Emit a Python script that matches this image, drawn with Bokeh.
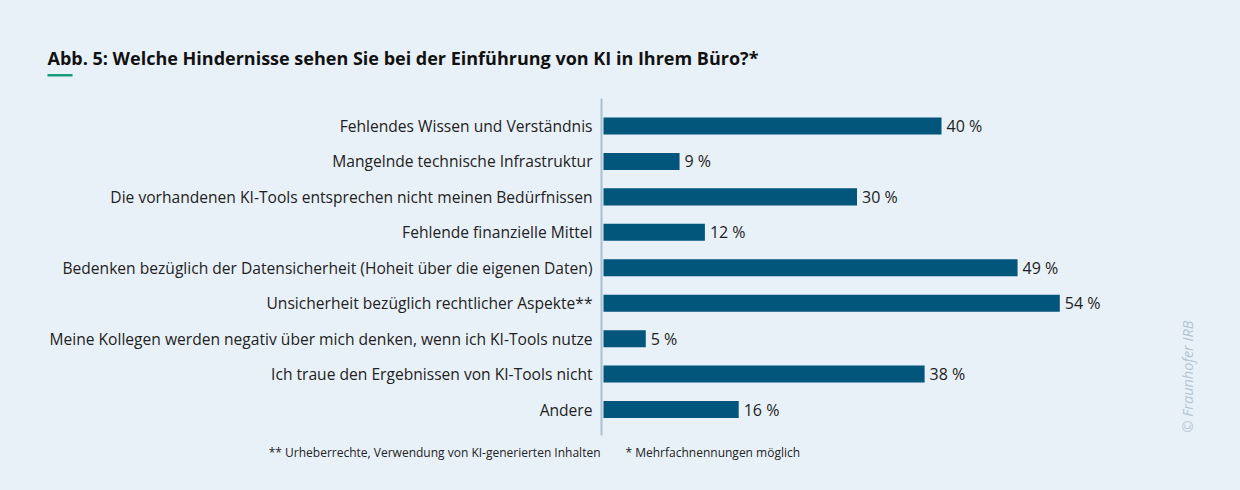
from bokeh.plotting import figure
from bokeh.models import ColumnDataSource, Range1d, Label, BoxAnnotation, GlobalInlineStyleSheet
from bokeh.embed import file_html
from bokeh.resources import INLINE
from bokeh.core.properties import value
import math

categories = [
    "Fehlendes Wissen und Verständnis",
    "Mangelnde technische Infrastruktur",
    "Die vorhandenen KI-Tools entsprechen nicht meinen Bedürfnissen",
    "Fehlende finanzielle Mittel",
    "Bedenken bezüglich der Datensicherheit (Hoheit über die eigenen Daten)",
    "Unsicherheit bezüglich rechtlicher Aspekte**",
    "Meine Kollegen werden negativ über mich denken, wenn ich KI-Tools nutze",
    "Ich traue den Ergebnissen von KI-Tools nicht",
    "Andere",
]
values = [40, 9, 30, 12, 49, 54, 5, 38, 16]
value_labels = [f"{v} %" for v in values]

title_text = "Abb. 5: Welche Hindernisse sehen Sie bei der Einführung von KI in Ihrem Büro?*"
footnote_1 = "** Urheberrechte, Verwendung von KI-generierten Inhalten"
footnote_2 = "* Mehrfachnennungen möglich"
copyright_text = "© Fraunhofer IRB"

BG = "#e9f1f8"
BAR = "#02557b"
FONT = "Open Sans"
TXT = "#222222"

W, H = 1224, 474
X0 = 603          # px of value 0
PXU = 8.45        # px per percent
Y0 = 125.5        # px of first row center
ROW = 35.44       # px per row

n = len(categories)
rows = list(range(n))

src = ColumnDataSource(dict(row=rows, cat=categories, val=values, lab=value_labels))

p = figure(
    width=W, height=H,
    x_range=Range1d(-X0 / PXU, (W - X0) / PXU),
    y_range=Range1d((H - Y0) / ROW, -Y0 / ROW),
    x_axis_location=None, y_axis_location=None,
    output_backend="svg", toolbar_location=None,
    min_border=0,
)
p.stylesheets = [GlobalInlineStyleSheet(css=f"body{{background-color:{BG};}}")]
p.background_fill_color = BG
p.border_fill_color = BG
p.outline_line_color = None
p.grid.visible = False

# vertical axis line
p.segment(x0=[-2 / PXU], x1=[-2 / PXU], y0=[-0.776], y1=[n - 1 + 0.733],
          line_color="#a9bfd2", line_width=2)

p.hbar(y="row", right="val", left=0, height=0.48, source=src, fill_color=BAR, line_color=None)

p.text(x=0, y="row", text="cat", source=src, x_offset=-11,
       text_align="right", text_baseline="middle",
       text_font=value(FONT), text_font_size="15.6px", text_color=TXT)

p.text(x="val", y="row", text="lab", source=src, x_offset=5,
       text_align="left", text_baseline="middle",
       text_font=value(FONT), text_font_size="16px", text_color=TXT)


def sy(Y):
    return H - Y


p.add_layout(Label(x=47, y=sy(57), x_units="screen", y_units="screen", text=title_text,
                   text_font=FONT, text_font_size="18px", text_font_style="bold",
                   text_color="#111111", text_align="left", text_baseline="middle"))
p.add_layout(BoxAnnotation(left=47, right=72, bottom=sy(76), top=sy(73.5),
                           left_units="screen", right_units="screen",
                           top_units="screen", bottom_units="screen",
                           fill_color="#179c7d", fill_alpha=1.0, line_color=None))
p.add_layout(Label(x=600, y=sy(452), x_units="screen", y_units="screen", text=footnote_1,
                   text_font=FONT, text_font_size="12px", text_color=TXT,
                   text_align="right", text_baseline="middle"))
p.add_layout(Label(x=625, y=sy(452), x_units="screen", y_units="screen", text=footnote_2,
                   text_font=FONT, text_font_size="12px", text_color=TXT,
                   text_align="left", text_baseline="middle"))
p.add_layout(Label(x=1187, y=sy(376), x_units="screen", y_units="screen", text=copyright_text,
                   angle=math.pi / 2, text_font=FONT, text_font_size="14.5px", text_font_style="italic",
                   text_color="#b3c5d5", text_align="center", text_baseline="middle"))

open("out.html", "w").write(file_html(p, INLINE))
